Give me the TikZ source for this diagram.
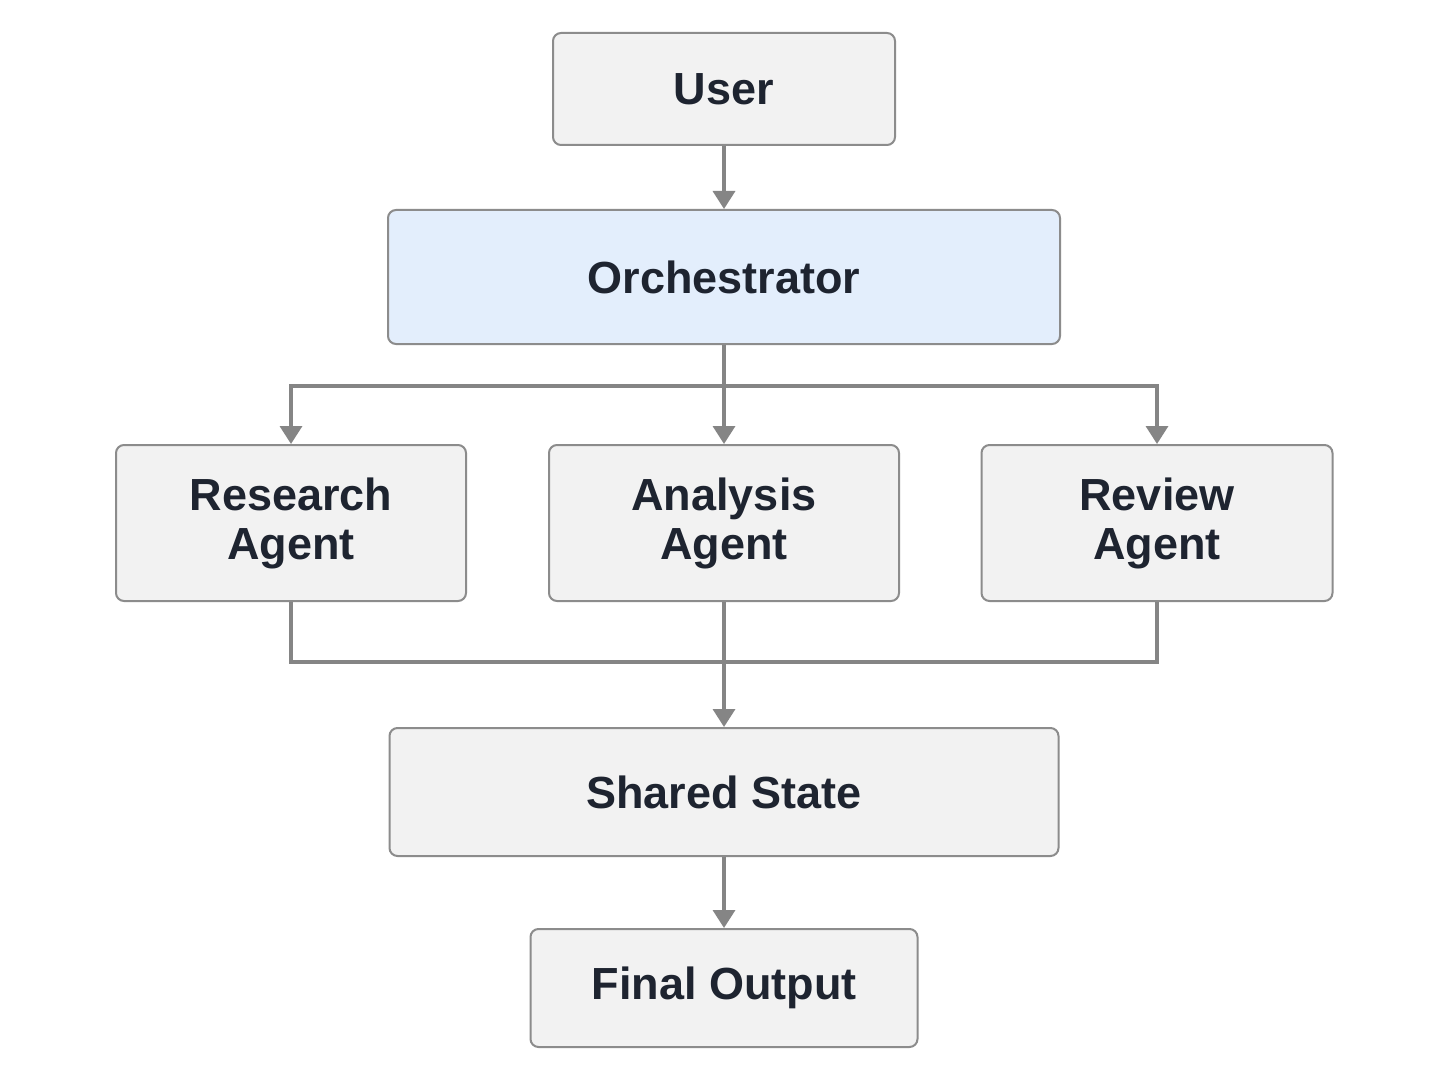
\documentclass[tikz,border=0pt]{standalone}
\usepackage{fontspec}
\setmainfont{Liberation Sans}
\usetikzlibrary{arrows.meta}
\definecolor{boxfill}{HTML}{F2F2F2}
\definecolor{boxline}{HTML}{8C8C8C}
\definecolor{blue}{HTML}{E3EEFC}
\definecolor{txt}{HTML}{1E2430}
\definecolor{conn}{HTML}{858585}
\begin{document}
\begin{tikzpicture}[x=1pt,y=-1pt,
  box/.style={draw=boxline,line width=2pt,fill=boxfill,rounded corners=8pt,
    text=txt,font=\bfseries\fontsize{45}{49}\selectfont,align=center,inner sep=0pt},
  conn/.style={draw=conn,line width=3.5pt},
  arr/.style={conn,-{Triangle[width=22pt,length=18pt]}}]
\useasboundingbox[fill=white] (0,0) rectangle (1449,1086);
\node[box,minimum width=342pt,minimum height=112pt] (user) at (724,89) {User};
\node[box,fill=blue,minimum width=672pt,minimum height=134pt] (orch) at (724,277) {Orchestrator};
\node[box,minimum width=350pt,minimum height=156pt] (res) at (291,523) {Research\\Agent};
\node[box,minimum width=350pt,minimum height=156pt] (ana) at (724,523) {Analysis\\Agent};
\node[box,minimum width=351pt,minimum height=156pt] (rev) at (1157,523) {Review\\Agent};
\node[box,minimum width=669pt,minimum height=128pt] (ss) at (724,792) {Shared State};
\node[box,minimum width=387pt,minimum height=118pt] (fo) at (724,988) {Final Output};
\coordinate (b) at (724,386);
\coordinate (m) at (724,662);
\draw[arr] (user) -- (orch);
\draw[conn] (orch) -- (b);
\draw[arr] (b) -- (ana);
\draw[arr] (b) -| (res);
\draw[arr] (b) -| (rev);
\draw[conn] (res) |- (m);
\draw[conn] (rev) |- (m);
\draw[arr] (ana) -- (ss);
\draw[arr] (ss) -- (fo);
\end{tikzpicture}
\end{document}
